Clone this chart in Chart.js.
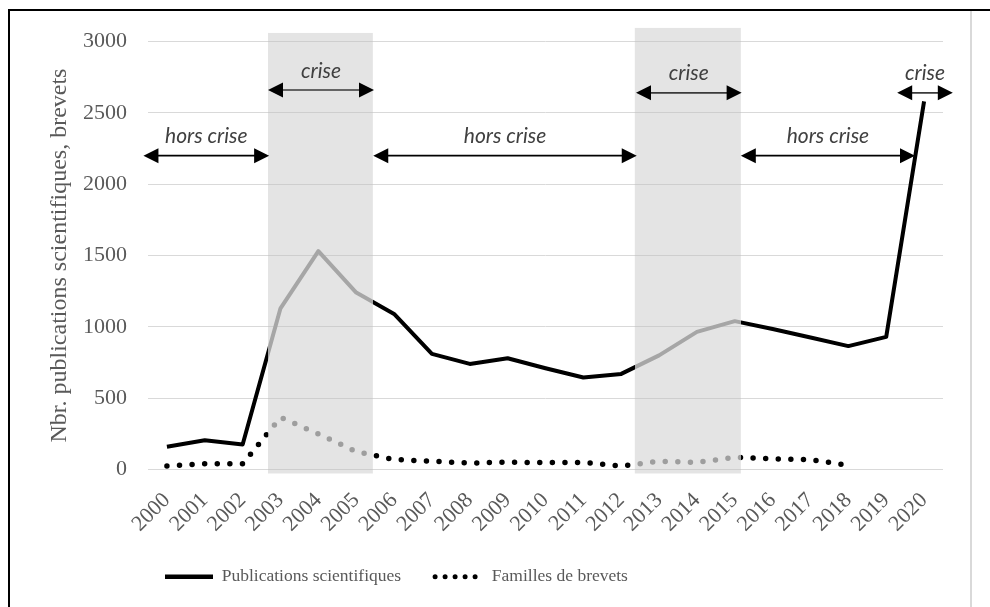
<!DOCTYPE html>
<html>
<head>
<meta charset="utf-8">
<script src="https://cdn.jsdelivr.net/npm/chart.js@4.4.0/dist/chart.umd.min.js"></script>
<style>
  html, body { margin: 0; padding: 0; background: #fff; }
  #wrap { position: relative; width: 990px; height: 607px; overflow: hidden; }
  #frame { position: absolute; left: 8px; top: 9px; right: -10px; bottom: -10px; border-top: 2px solid #000; border-left: 2px solid #000; }
  #edge { position: absolute; left: 970px; top: 11px; bottom: 0; width: 2px; background: #d9d9d9; }
  canvas { position: absolute; left: 0; top: 0; }
</style>
</head>
<body>
<div id="wrap">
  <div id="frame"></div>
  <div id="edge"></div>
  <canvas id="chart" width="990" height="607"></canvas>
</div>
<script>
const years = ["2000", "2001", "2002", "2003", "2004", "2005", "2006", "2007", "2008", "2009", "2010",
               "2011", "2012", "2013", "2014", "2015", "2016", "2017", "2018", "2019", "2020"];
const publications = [160, 205, 175, 1130, 1530, 1240, 1090, 810, 740, 780, 710,
                      645, 670, 800, 965, 1040, 985, 925, 865, 930, 2580];
const brevets = [25, 40, 40, 365, 250, 125, 70, 58, 45, 52, 48,
                 50, 23, 58, 50, 85, 75, 68, 30, null, null];

const yTicks = [0, 500, 1000, 1500, 2000, 2500, 3000];

// shaded crisis periods (in years)
const bandStart = [2002.67, 2012.36];
const bandEnd = [2005.44, 2015.16];
const bandTop = [3060, 3095];
const bandBottom = -28;

// period arrows
const periodLabels = ["hors crise", "crise", "hors crise", "crise", "hors crise", "crise"];
const periodFrom = [1999.38, 2002.67, 2005.45, 2012.39, 2015.16, 2019.29];
const periodTo = [2002.70, 2005.47, 2012.41, 2015.18, 2019.76, 2020.76];
const periodLevel = [2200, 2660, 2200, 2640, 2200, 2640];

const firstYear = 2000;
const xOf = (scale, yr) => scale.getPixelForValue(yr - firstYear);

/* line colour: black, grey inside the crisis bands */
function bandedColor(dark, light) {
  return (ctx) => {
    const chart = ctx.chart;
    const area = chart.chartArea;
    if (!area || !chart.scales.x) return dark;
    const x = chart.scales.x;
    const w = area.right - area.left;
    const g = chart.ctx.createLinearGradient(area.left, 0, area.right, 0);
    g.addColorStop(0, dark);
    bandStart.forEach((s, i) => {
      const a = (xOf(x, s) - area.left) / w;
      const b = (xOf(x, bandEnd[i]) - area.left) / w;
      g.addColorStop(a, dark);
      g.addColorStop(a, light);
      g.addColorStop(b, light);
      g.addColorStop(b, dark);
    });
    g.addColorStop(1, dark);
    return g;
  };
}

/* Bands */
const crisisBands = {
  id: "crisisBands",
  beforeDatasetsDraw(chart) {
    const { ctx, scales: { x, y } } = chart;
    ctx.save();
    ctx.fillStyle = "rgba(190,190,190,0.42)";
    bandStart.forEach((s, i) => {
      const x0 = xOf(x, s);
      const x1 = xOf(x, bandEnd[i]);
      const top = y.getPixelForValue(bandTop[i]);
      const bottom = y.getPixelForValue(bandBottom);
      ctx.fillRect(x0, top, x1 - x0, bottom - top);
    });
    ctx.restore();
  }
};

/* Arrows */
function arrowHead(ctx, tipX, yy, dir) {
  ctx.beginPath();
  ctx.moveTo(tipX, yy);
  ctx.lineTo(tipX + dir * 15, yy - 7.5);
  ctx.lineTo(tipX + dir * 15, yy + 7.5);
  ctx.closePath();
  ctx.fill();
}

const periodArrows = {
  id: "periodArrows",
  afterDatasetsDraw(chart) {
    const { ctx, scales: { x, y } } = chart;
    ctx.save();
    periodLabels.forEach((label, i) => {
      const x0 = xOf(x, periodFrom[i]);
      const x1 = xOf(x, periodTo[i]);
      const yy = y.getPixelForValue(periodLevel[i]);
      ctx.strokeStyle = label === "crise" ? "#3a3a3a" : "#000";
      ctx.lineWidth = 1.6;
      ctx.beginPath();
      ctx.moveTo(x0 + 10, yy);
      ctx.lineTo(x1 - 10, yy);
      ctx.stroke();
      ctx.fillStyle = "#000";
      arrowHead(ctx, x0, yy, 1);
      arrowHead(ctx, x1, yy, -1);
      ctx.font = "italic 21px Lato";
      ctx.fillStyle = "#404040";
      ctx.textAlign = "center";
      ctx.textBaseline = "alphabetic";
      ctx.fillText(label, (x0 + x1) / 2, yy - 12.5);
    });
    ctx.restore();
  }
};

/* Legend sits under the plot, a bit right of the axis */
const legendNudge = {
  id: "legendNudge",
  afterLayout(chart) {
    chart.legend.left = chart.chartArea.left - 17;
  }
};

const legendDash = [[], [0, 10]];

new Chart(document.getElementById("chart"), {
  type: "line",
  data: {
    labels: years,
    datasets: [
      {
        label: "Publications scientifiques",
        data: publications,
        borderColor: bandedColor("#000", "#a6a6a6"),
        borderWidth: 4,
        borderJoinStyle: "round",
        pointRadius: 0,
        tension: 0
      },
      {
        label: "Familles de brevets",
        data: brevets,
        borderColor: bandedColor("#000", "#9e9e9e"),
        borderWidth: 5.5,
        borderDash: [0, 12.6],
        borderCapStyle: "round",
        pointRadius: 0,
        tension: 0,
        spanGaps: false
      }
    ]
  },
  options: {
    responsive: false,
    animation: false,
    devicePixelRatio: 1,
    layout: { padding: { top: 41.5, right: 47, bottom: 11.5, left: 0 } },
    scales: {
      x: {
        offset: true,
        grid: { display: false },
        border: { display: false },
        ticks: {
          color: "#595959",
          font: { family: "Liberation Serif", size: 22 },
          autoSkip: false,
          minRotation: 45,
          maxRotation: 45,
          padding: 10
        },
        afterFit: (scale) => { scale.height = 64.5; }
      },
      y: {
        min: 0,
        max: 3000,
        afterBuildTicks: (scale) => { scale.ticks = yTicks.map(v => ({ value: v })); },
        grid: { color: "#d9d9d9", lineWidth: 1, drawTicks: false },
        border: { display: false },
        ticks: {
          color: "#595959",
          font: { family: "Liberation Serif", size: 22 },
          padding: 21,
          callback: (v) => String(v)
        },
        title: {
          display: true,
          text: "Nbr. publications scientifiques, brevets",
          color: "#595959",
          font: { family: "Liberation Serif", size: 24 },
          padding: { top: 45, bottom: 0 }
        },
        afterFit: (scale) => { scale.width = 148; }
      }
    },
    plugins: {
      tooltip: { enabled: false },
      legend: {
        position: "bottom",
        align: "start",
        labels: {
          color: "#595959",
          font: { family: "Liberation Serif", size: 17.5 },
          usePointStyle: true,
          pointStyleWidth: 48,
          padding: 34,
          generateLabels: (chart) => chart.data.datasets.map((ds, i) => ({
            text: ds.label,
            datasetIndex: i,
            fillStyle: "#000",
            strokeStyle: "#000",
            fontColor: "#595959",
            lineWidth: i === 0 ? 4.5 : 5,
            lineDash: legendDash[i],
            lineCap: i === 0 ? "butt" : "round",
            pointStyle: "line",
            hidden: false
          }))
        }
      }
    }
  },
  plugins: [crisisBands, periodArrows, legendNudge]
});
</script>
</body>
</html>
